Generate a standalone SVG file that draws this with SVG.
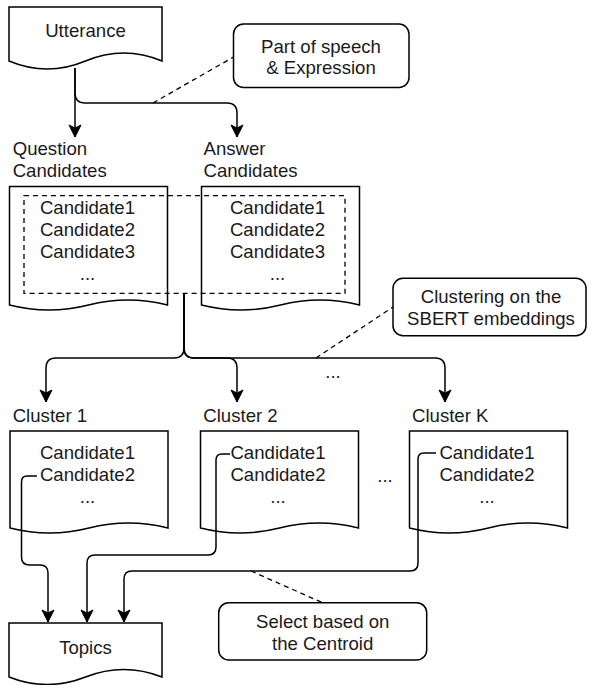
<svg xmlns="http://www.w3.org/2000/svg" width="595" height="685" viewBox="0 0 595 685">
<style>
.box{fill:#fff;stroke:#000;stroke-width:1.5}
.t{font-family:"Liberation Sans",Arial,sans-serif;font-size:18.6px;fill:#1a1a1a}
.c{text-anchor:middle}
.edge{fill:none;stroke:#000;stroke-width:1.5}
.dash{fill:none;stroke:#000;stroke-width:1.3;stroke-dasharray:5 4}
</style>
<defs>
<marker id="arr" viewBox="-14 -8 16 16" markerWidth="16" markerHeight="16" refX="0" refY="0" orient="auto" markerUnits="userSpaceOnUse">
<path d="M0,0 L-12,-6 L-9,0 L-12,6 Z" fill="#000" stroke="#000" stroke-width="1"/>
</marker>
</defs>
<g id="utterance">
<path class="box" d="M9,7 H162 V61 Q123.75,45 85.5,61 Q47.25,77 9,61 Z"/>
<text class="t c" x="85.5" y="37">Utterance</text>
</g>
<g id="pos-note">
<rect class="box" x="233.5" y="24" width="175.5" height="63.5" rx="10"/>
<text class="t c" x="321" y="52.7">Part of speech</text>
<text class="t c" x="321" y="74">&amp; Expression</text>
</g>
<g id="question-label">
<text class="t" x="12.7" y="155">Question</text>
<text class="t" x="12.7" y="177">Candidates</text>
</g>
<g id="answer-label">
<text class="t" x="203.5" y="155">Answer</text>
<text class="t" x="203.5" y="177">Candidates</text>
</g>
<g id="question-candidates">
<path class="box" d="M9.5,186.5 H167.5 V305 Q128,295 88.5,305 Q49,315 9.5,305 Z"/>
<text class="t c" x="87.5" y="214">Candidate1</text>
<text class="t c" x="87.5" y="236">Candidate2</text>
<text class="t c" x="87.5" y="258">Candidate3</text>
<text class="t c" x="87.5" y="280">...</text>
</g>
<g id="answer-candidates">
<path class="box" d="M201.5,186.5 H359.5 V305 Q320,295 280.5,305 Q241,315 201.5,305 Z"/>
<text class="t c" x="277.5" y="214">Candidate1</text>
<text class="t c" x="277.5" y="236">Candidate2</text>
<text class="t c" x="277.5" y="258">Candidate3</text>
<text class="t c" x="277.5" y="280">...</text>
</g>
<g id="candidate-group">
<rect class="dash" x="24" y="195.7" width="321" height="97.6"/>
</g>
<g id="clustering-note">
<rect class="box" x="393" y="278.3" width="193" height="57.4" rx="10"/>
<text class="t c" x="491" y="303">Clustering on the</text>
<text class="t c" x="491" y="325">SBERT embeddings</text>
</g>
<g id="branch-dots">
<text class="t c" x="333" y="378">...</text>
</g>
<g id="cluster1">
<text class="t" x="12.7" y="421.5">Cluster 1</text>
<path class="box" d="M10,431 H168 V528 Q128.5,518 89,528 Q49.5,538 10,528 Z"/>
<text class="t c" x="87.5" y="459">Candidate1</text>
<text class="t c" x="87.5" y="481">Candidate2</text>
<text class="t c" x="87.5" y="503">...</text>
</g>
<g id="cluster2">
<text class="t" x="203.3" y="421.5">Cluster 2</text>
<path class="box" d="M200.5,431 H358.5 V528 Q319,518 279.5,528 Q240,538 200.5,528 Z"/>
<text class="t c" x="278" y="459">Candidate1</text>
<text class="t c" x="278" y="481">Candidate2</text>
<text class="t c" x="278" y="503">...</text>
</g>
<g id="cluster-dots">
<text class="t c" x="385" y="482">...</text>
</g>
<g id="clusterK">
<text class="t" x="412" y="421.5">Cluster K</text>
<path class="box" d="M409.5,431 H567.5 V528 Q528,518 488.5,528 Q449,538 409.5,528 Z"/>
<text class="t c" x="487" y="459">Candidate1</text>
<text class="t c" x="487" y="481">Candidate2</text>
<text class="t c" x="487" y="503">...</text>
</g>
<g id="select-note">
<rect class="box" x="218.7" y="602.7" width="208" height="57.3" rx="10"/>
<text class="t c" x="322.7" y="628">Select based on</text>
<text class="t c" x="322.7" y="650">the Centroid</text>
</g>
<g id="topics">
<path class="box" d="M9,623 H162 V677 Q123.75,662 85.5,677 Q47.25,692 9,677 Z"/>
<text class="t c" x="85.5" y="654">Topics</text>
</g>
<g id="connectors">
<path class="edge" marker-end="url(#arr)" d="M75,68 V137"/>
<path class="edge" marker-end="url(#arr)" d="M75,68 V93 Q75,103 85,103 H227 Q237,103 237,113 V137"/>
<path class="dash" d="M153,103 L233.5,57"/>
<path class="edge" marker-end="url(#arr)" d="M184,293.3 V348 Q184,358 174,358 H56 Q46,358 46,368 V402"/>
<path class="edge" marker-end="url(#arr)" d="M184,293.3 V348 Q184,358 194,358 H227 Q237,358 237,368 V402"/>
<path class="edge" marker-end="url(#arr)" d="M184,293.3 V348 Q184,358 194,358 H435 Q445,358 445,368 V402"/>
<path class="dash" d="M316,358 L393,307"/>
<path class="edge" marker-end="url(#arr)" d="M37,476 H27 Q21.5,476 21.5,482 V557 Q21.5,565 29.5,565 H40 Q48,565 48,573 V622"/>
<path class="edge" marker-end="url(#arr)" d="M230,454 H222 Q216,454 216,460 V547 Q216,555 208,555 H95 Q87,555 87,563 V622"/>
<path class="edge" marker-end="url(#arr)" d="M436,453 H424 Q418,453 418,459 V563 Q418,571 410,571 H132 Q124,571 124,579 V622"/>
<path class="dash" d="M251,571 L322.5,602.7"/>
</g>
</svg>
